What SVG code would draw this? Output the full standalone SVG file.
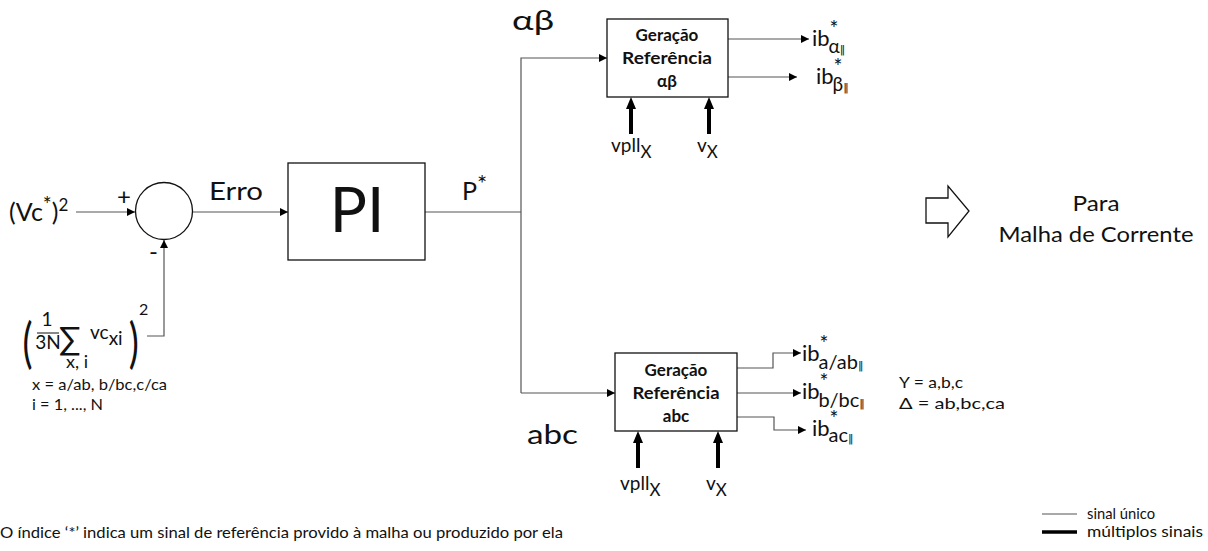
<svg xmlns="http://www.w3.org/2000/svg" width="1208" height="551" viewBox="0 0 1208 551">
<defs>
<marker id="ah" viewBox="0 0 10 10" refX="10" refY="5" markerWidth="8" markerHeight="8" markerUnits="userSpaceOnUse" orient="auto"><path d="M0,0 L10,5 L0,10 z" fill="#000"/></marker>
<marker id="ahb" viewBox="0 0 12 10" refX="0" refY="5" markerWidth="12" markerHeight="10" markerUnits="userSpaceOnUse" orient="auto"><path d="M0,0 L12,5 L0,10 z" fill="#000"/></marker>
<style>
text{font-family:Lato,"Open Sans","Liberation Sans",sans-serif;fill:#111}
.ln{fill:none;stroke:#555;stroke-width:1.2}
.thk{fill:none;stroke:#000;stroke-width:4}
.box{fill:#fff;stroke:#111;stroke-width:1.3}
.bt{font-weight:bold;font-size:17px;text-anchor:middle}
.ib{font-size:22px}
.st{font-size:21px}
.s{font-size:16px}
.v{font-size:19px}
.pp{font-family:"DejaVu Sans",sans-serif;font-size:11px}
</style>
</defs>
<g id="connectors">
<path class="ln" d="M76,212 H135" marker-end="url(#ah)"/>
<path class="ln" d="M147,336 H164 V240" marker-end="url(#ah)"/>
<path class="ln" d="M193,212 H288" marker-end="url(#ah)"/>
<path class="ln" d="M425,212 H521"/>
<path class="ln" d="M521,393 V58 H607" marker-end="url(#ah)"/>
<path class="ln" d="M521,393 H615" marker-end="url(#ah)"/>
<path class="ln" d="M728,39 H809" marker-end="url(#ah)"/>
<path class="ln" d="M728,77 H797" marker-end="url(#ah)"/>
<path class="ln" d="M737,368 H773 V353 H801" marker-end="url(#ah)"/>
<path class="ln" d="M737,393 H801" marker-end="url(#ah)"/>
<path class="ln" d="M737,417 H774 V430 H806" marker-end="url(#ah)"/>
<path class="thk" d="M631,134 V109" marker-end="url(#ahb)"/>
<path class="thk" d="M709,134 V109" marker-end="url(#ahb)"/>
<path class="thk" d="M638,468 V443" marker-end="url(#ahb)"/>
<path class="thk" d="M718,468 V443" marker-end="url(#ahb)"/>
</g>
<g id="input-ref">
<text x="9" y="221" font-size="25">(Vc<tspan dy="-9" font-size="21">*</tspan><tspan dy="9">)</tspan><tspan dy="-10" font-size="17">2</tspan></text>
</g>
<g id="sum">
<circle cx="164" cy="211" r="28.5" fill="#fff" stroke="#111" stroke-width="1.3"/>
<text x="117" y="205" font-size="24">+</text>
<text x="149" y="260" font-size="24">-</text>
</g>
<g id="feedback-formula">
<text x="32" y="362" font-size="54" transform="scale(0.7,1)">(</text>
<text x="47" y="326" font-size="19" text-anchor="middle">1</text>
<line x1="37" y1="333" x2="59" y2="333" stroke="#111" stroke-width="1"/>
<text x="48" y="349" font-size="19" text-anchor="middle">3N</text>
<text x="59" y="350" font-size="32">∑</text>
<text x="66" y="368" font-size="18">x, i</text>
<text x="90" y="339" font-size="19">vc<tspan dy="6">xi</tspan></text>
<text x="184" y="362" font-size="54" transform="scale(0.7,1)">)</text>
<text x="139" y="315" font-size="16">2</text>
<text x="32" y="390" class="s" textLength="135" lengthAdjust="spacingAndGlyphs">x = a/ab, b/bc,c/ca</text>
<text x="32" y="410" class="s" textLength="71" lengthAdjust="spacingAndGlyphs">i = 1, ..., N</text>
</g>
<g id="erro-label"><text x="209" y="200" font-size="25" textLength="54" lengthAdjust="spacingAndGlyphs">Erro</text></g>
<g id="pi">
<rect x="288" y="163" width="137" height="97" class="box"/>
<text x="357" y="232" font-size="62" text-anchor="middle">PI</text>
</g>
<g id="p-label"><text x="462" y="200" font-size="25">P<tspan dy="-8" font-size="24">*</tspan></text></g>
<g id="ab-label"><text x="512" y="30" font-size="26" textLength="42" lengthAdjust="spacingAndGlyphs">αβ</text></g>
<g id="abc-label"><text x="527" y="444" font-size="26" textLength="51" lengthAdjust="spacingAndGlyphs">abc</text></g>
<g id="gen-ab">
<rect x="607" y="19" width="121" height="78" class="box"/>
<text x="667" y="41" class="bt">Geração</text>
<text x="667" y="64" class="bt" textLength="90" lengthAdjust="spacingAndGlyphs">Referência</text>
<text x="667" y="87" class="bt">αβ</text>
</g>
<g id="gen-abc">
<rect x="615" y="353" width="122" height="78" class="box"/>
<text x="676" y="376" class="bt">Geração</text>
<text x="676" y="399" class="bt" textLength="87" lengthAdjust="spacingAndGlyphs">Referência</text>
<text x="676" y="422" class="bt">abc</text>
</g>
<g id="inputs-ab">
<text x="611" y="152" class="v">vpll<tspan dy="6" font-size="17">X</tspan></text>
<text x="697" y="152" class="v">v<tspan dy="6" font-size="17">X</tspan></text>
</g>
<g id="inputs-abc">
<text x="620" y="490" class="v">vpll<tspan dy="6" font-size="17">X</tspan></text>
<text x="706" y="490" class="v">v<tspan dy="6" font-size="17">X</tspan></text>
</g>
<g id="outputs-ab">
<text x="812" y="46" class="ib">ib<tspan dy="-10" class="st">*</tspan><tspan dx="-10" dy="17" font-size="19">α</tspan><tspan class="pp">‖</tspan></text>
<text x="816" y="84" class="ib">ib<tspan dy="-10" class="st">*</tspan><tspan dx="-10" dy="17" font-size="19">β</tspan><tspan class="pp">‖</tspan></text>
</g>
<g id="outputs-abc">
<text x="802" y="361" class="ib">ib<tspan dy="-10" class="st">*</tspan><tspan dx="-10" dy="18" font-size="20">a/ab</tspan><tspan class="pp">‖</tspan></text>
<text x="802" y="399" class="ib">ib<tspan dy="-10" class="st">*</tspan><tspan dx="-10" dy="18" font-size="20">b/bc</tspan><tspan class="pp">‖</tspan></text>
<text x="812" y="436" class="ib">ib<tspan dy="-10" class="st">*</tspan><tspan dx="-10" dy="16" font-size="20">ac</tspan><tspan class="pp">‖</tspan></text>
</g>
<g id="sets">
<text x="899" y="388" class="s" textLength="64" lengthAdjust="spacingAndGlyphs">Y = a,b,c</text>
<text x="899" y="409" class="s" textLength="106" lengthAdjust="spacingAndGlyphs">Δ = ab,bc,ca</text>
</g>
<g id="to-current-loop">
<path d="M926,198 H948 V186 L969,211 L948,237 V223 H926 Z" fill="#fff" stroke="#111" stroke-width="1.3"/>
<text x="1096" y="211" font-size="22" text-anchor="middle" textLength="47" lengthAdjust="spacingAndGlyphs">Para</text>
<text x="1096" y="242" font-size="22" text-anchor="middle" textLength="195" lengthAdjust="spacingAndGlyphs">Malha de Corrente</text>
</g>
<g id="legend">
<line x1="1042" y1="514" x2="1077" y2="514" stroke="#555" stroke-width="1.2"/>
<text x="1087" y="519" class="s" textLength="68" lengthAdjust="spacingAndGlyphs">sinal único</text>
<line x1="1042" y1="532" x2="1077" y2="532" stroke="#000" stroke-width="3.5"/>
<text x="1087" y="537" class="s" textLength="116" lengthAdjust="spacingAndGlyphs">múltiplos sinais</text>
</g>
<g id="footnote">
<text x="0" y="538" class="s" textLength="563" lengthAdjust="spacingAndGlyphs">O índice ‘*’ indica um sinal de referência provido à malha ou produzido por ela</text>
</g>
</svg>
